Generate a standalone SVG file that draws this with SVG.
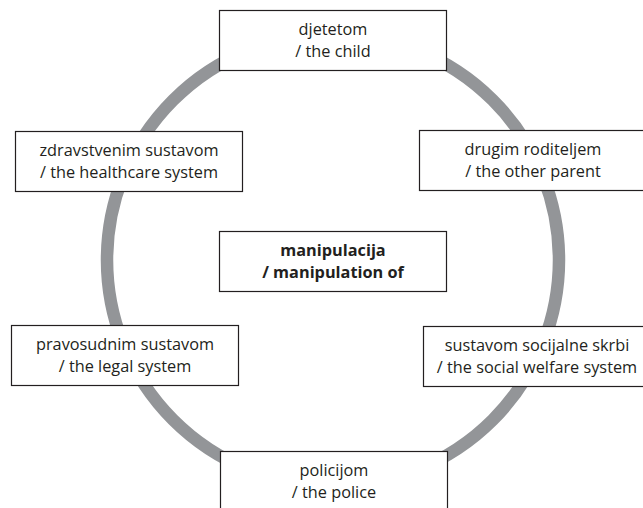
<svg xmlns="http://www.w3.org/2000/svg" width="643" height="508" viewBox="0 0 643 508">
<style>
.box{fill:#fff;stroke:#231f20;stroke-width:1.2}
.t{font-family:"Open Sans","Liberation Sans",sans-serif;font-size:16.3px;fill:#231f20;text-anchor:middle}
.b{font-weight:bold}
.ring{fill:none;stroke:#939598;stroke-width:12.5}
</style>
<rect width="643" height="508" fill="#fff"/>
<g id="connectors">
<circle class="ring" cx="333" cy="260" r="226"/>
</g>
<g id="child">
<rect class="box" x="219.5" y="10.5" width="227" height="60"/>
<text class="t" x="333" y="35">djetetom</text>
<text class="t" x="333" y="56.5">/ the child</text>
</g>
<g id="healthcare">
<rect class="box" x="15.5" y="131.5" width="227" height="60"/>
<text class="t" x="129" y="156">zdravstvenim sustavom</text>
<text class="t" x="129" y="177.5">/ the healthcare system</text>
</g>
<g id="parent">
<rect class="box" x="419.5" y="130.5" width="227" height="60"/>
<text class="t" x="533" y="155">drugim roditeljem</text>
<text class="t" x="533" y="176.5">/ the other parent</text>
</g>
<g id="manipulation">
<rect class="box" x="219.5" y="231.5" width="227" height="60"/>
<text class="t b" x="333" y="256">manipulacija</text>
<text class="t b" x="333" y="277.5">/ manipulation of</text>
</g>
<g id="legal">
<rect class="box" x="11.5" y="325.5" width="227" height="60"/>
<text class="t" x="125" y="350">pravosudnim sustavom</text>
<text class="t" x="125" y="371.5">/ the legal system</text>
</g>
<g id="welfare">
<rect class="box" x="423.5" y="326.5" width="227" height="60"/>
<text class="t" x="537" y="351">sustavom socijalne skrbi</text>
<text class="t" x="537" y="372.5">/ the social welfare system</text>
</g>
<g id="police">
<rect class="box" x="220.5" y="451.5" width="227" height="60"/>
<text class="t" x="334" y="476">policijom</text>
<text class="t" x="334" y="497.5">/ the police</text>
</g>
</svg>
